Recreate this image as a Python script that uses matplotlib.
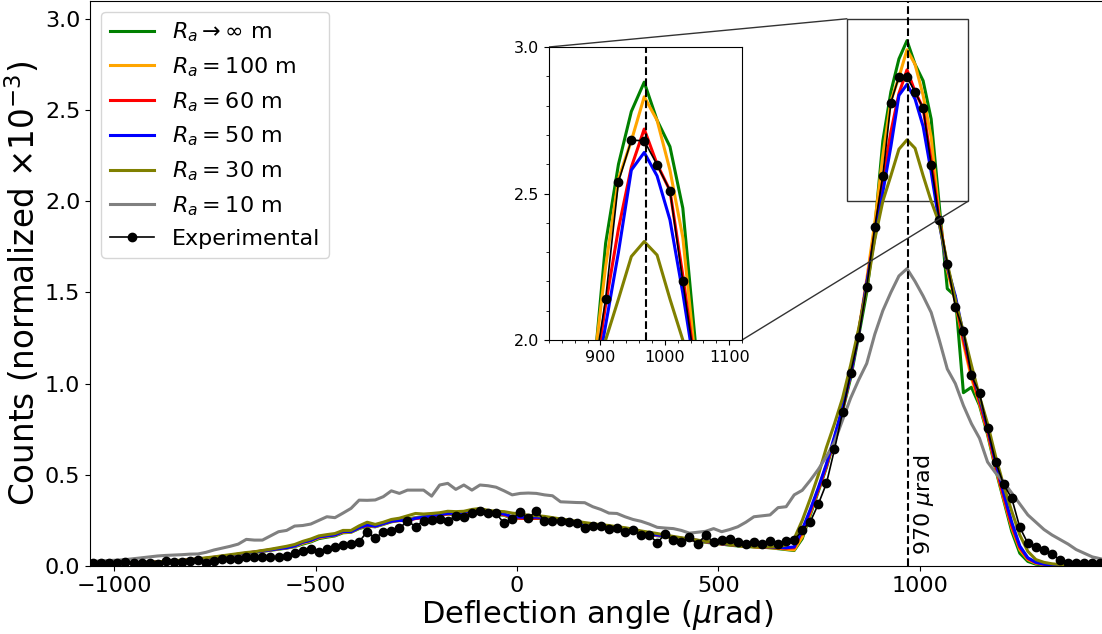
import numpy as np
import matplotlib
matplotlib.use("Agg")
import matplotlib.pyplot as plt
from mpl_toolkits.axes_grid1.inset_locator import mark_inset

# deflection angle grid (µrad), 20 µrad bins
angle = np.arange(-1052, 1449, 20)

exp_counts = [
    0.015, 0.018, 0.018, 0.018, 0.022, 0.015, 0.015, 0.015, 0.012, 0.029,
    0.022, 0.024, 0.029, 0.033, 0.018, 0.029, 0.036, 0.040, 0.040, 0.047,
    0.047, 0.047, 0.047, 0.051, 0.055, 0.073, 0.084, 0.091, 0.078, 0.091,
    0.106, 0.115, 0.120, 0.133, 0.188, 0.152, 0.188, 0.193, 0.206, 0.248,
    0.215, 0.248, 0.252, 0.256, 0.246, 0.276, 0.267, 0.288, 0.303, 0.292,
    0.288, 0.234, 0.256, 0.297, 0.261, 0.303, 0.248, 0.246, 0.248, 0.243,
    0.237, 0.206, 0.219, 0.219, 0.201, 0.206, 0.188, 0.197, 0.170, 0.170,
    0.128, 0.175, 0.142, 0.133, 0.157, 0.120, 0.170, 0.130, 0.142, 0.150,
    0.133, 0.120, 0.131, 0.120, 0.139, 0.120, 0.139, 0.142, 0.197, 0.243,
    0.340, 0.453, 0.639, 0.842, 1.059, 1.256, 1.530, 1.858, 2.140, 2.540,
    2.682, 2.680, 2.598, 2.510, 2.200, 1.899, 1.658, 1.420, 1.289, 1.046,
    0.946, 0.754, 0.571, 0.447, 0.371, 0.212, 0.124, 0.102, 0.088, 0.066,
    0.033, 0.018, 0.018, 0.018, 0.018, 0.018,
]

ra_inf = [
    0.010, 0.011, 0.012, 0.014, 0.015, 0.016, 0.017, 0.019, 0.021, 0.024,
    0.027, 0.029, 0.032, 0.036, 0.040, 0.045, 0.050, 0.056, 0.062, 0.068,
    0.074, 0.080, 0.086, 0.092, 0.098, 0.106, 0.120, 0.132, 0.150, 0.158,
    0.165, 0.182, 0.185, 0.205, 0.218, 0.215, 0.228, 0.242, 0.250, 0.258,
    0.265, 0.270, 0.272, 0.280, 0.285, 0.282, 0.290, 0.300, 0.298, 0.285,
    0.282, 0.278, 0.262, 0.262, 0.260, 0.262, 0.258, 0.252, 0.246, 0.240,
    0.235, 0.228, 0.220, 0.214, 0.206, 0.200, 0.194, 0.188, 0.180, 0.172,
    0.166, 0.160, 0.155, 0.148, 0.142, 0.136, 0.130, 0.125, 0.120, 0.114,
    0.110, 0.107, 0.105, 0.103, 0.100, 0.095, 0.090, 0.085, 0.150, 0.280,
    0.410, 0.540, 0.690, 0.850, 1.030, 1.260, 1.500, 1.850, 2.330, 2.600,
    2.780, 2.880, 2.750, 2.660, 2.450, 1.980, 1.520, 1.480, 0.950, 0.980,
    0.880, 0.720, 0.530, 0.360, 0.190, 0.070, 0.025, 0.010, 0.005, 0.003,
    0.002, 0.002, 0.002, 0.002, 0.002, 0.002,
]

ra_100 = [
    0.010, 0.012, 0.013, 0.013, 0.015, 0.016, 0.018, 0.019, 0.022, 0.025,
    0.027, 0.030, 0.033, 0.037, 0.041, 0.046, 0.051, 0.057, 0.063, 0.069,
    0.075, 0.081, 0.087, 0.094, 0.099, 0.108, 0.125, 0.136, 0.155, 0.162,
    0.168, 0.186, 0.186, 0.208, 0.222, 0.216, 0.230, 0.244, 0.248, 0.252,
    0.264, 0.266, 0.274, 0.280, 0.286, 0.288, 0.292, 0.302, 0.302, 0.290,
    0.286, 0.280, 0.266, 0.264, 0.262, 0.266, 0.262, 0.255, 0.248, 0.242,
    0.236, 0.228, 0.220, 0.214, 0.208, 0.202, 0.196, 0.188, 0.180, 0.174,
    0.168, 0.162, 0.156, 0.150, 0.144, 0.138, 0.132, 0.126, 0.120, 0.116,
    0.112, 0.108, 0.106, 0.104, 0.100, 0.098, 0.092, 0.088, 0.160, 0.290,
    0.420, 0.550, 0.700, 0.860, 1.050, 1.290, 1.570, 1.880, 2.250, 2.550,
    2.680, 2.830, 2.750, 2.580, 2.350, 1.920, 1.620, 1.450, 1.220, 1.030,
    0.890, 0.730, 0.540, 0.370, 0.210, 0.090, 0.035, 0.015, 0.008, 0.005,
    0.004, 0.003, 0.002, 0.002, 0.002, 0.002,
]

ra_60 = [
    0.010, 0.012, 0.013, 0.014, 0.016, 0.017, 0.018, 0.020, 0.023, 0.026,
    0.028, 0.031, 0.034, 0.038, 0.042, 0.048, 0.053, 0.058, 0.065, 0.071,
    0.077, 0.083, 0.089, 0.096, 0.102, 0.112, 0.130, 0.142, 0.158, 0.166,
    0.172, 0.188, 0.190, 0.212, 0.222, 0.220, 0.234, 0.246, 0.252, 0.250,
    0.260, 0.265, 0.272, 0.280, 0.286, 0.288, 0.292, 0.300, 0.300, 0.290,
    0.285, 0.282, 0.268, 0.262, 0.260, 0.262, 0.266, 0.258, 0.250, 0.245,
    0.238, 0.230, 0.222, 0.216, 0.210, 0.204, 0.198, 0.190, 0.182, 0.176,
    0.170, 0.164, 0.158, 0.152, 0.146, 0.140, 0.134, 0.128, 0.122, 0.118,
    0.113, 0.110, 0.106, 0.104, 0.102, 0.100, 0.098, 0.100, 0.190, 0.300,
    0.420, 0.550, 0.700, 0.860, 1.050, 1.280, 1.550, 1.820, 2.120, 2.380,
    2.590, 2.720, 2.600, 2.510, 2.220, 1.900, 1.640, 1.460, 1.240, 1.050,
    0.900, 0.740, 0.550, 0.380, 0.220, 0.100, 0.040, 0.018, 0.010, 0.005,
    0.004, 0.003, 0.003, 0.002, 0.002, 0.002,
]

ra_50 = [
    0.010, 0.012, 0.013, 0.014, 0.015, 0.016, 0.018, 0.020, 0.022, 0.025,
    0.028, 0.030, 0.033, 0.038, 0.042, 0.047, 0.052, 0.058, 0.064, 0.070,
    0.076, 0.082, 0.088, 0.095, 0.100, 0.110, 0.130, 0.140, 0.160, 0.165,
    0.170, 0.190, 0.188, 0.210, 0.225, 0.218, 0.232, 0.245, 0.250, 0.248,
    0.262, 0.268, 0.275, 0.282, 0.288, 0.290, 0.295, 0.305, 0.305, 0.295,
    0.290, 0.285, 0.270, 0.268, 0.266, 0.268, 0.265, 0.258, 0.250, 0.245,
    0.238, 0.230, 0.222, 0.216, 0.210, 0.205, 0.198, 0.190, 0.182, 0.176,
    0.170, 0.165, 0.158, 0.152, 0.146, 0.140, 0.134, 0.128, 0.122, 0.118,
    0.114, 0.110, 0.108, 0.106, 0.104, 0.102, 0.100, 0.105, 0.200, 0.310,
    0.430, 0.560, 0.710, 0.870, 1.050, 1.280, 1.550, 1.800, 2.050, 2.300,
    2.580, 2.640, 2.560, 2.410, 2.160, 1.880, 1.640, 1.480, 1.270, 1.080,
    0.920, 0.760, 0.570, 0.400, 0.240, 0.110, 0.045, 0.020, 0.010, 0.006,
    0.005, 0.004, 0.003, 0.003, 0.002, 0.002,
]

ra_30 = [
    0.010, 0.012, 0.013, 0.014, 0.016, 0.017, 0.019, 0.021, 0.023, 0.026,
    0.029, 0.032, 0.035, 0.040, 0.045, 0.050, 0.056, 0.062, 0.068, 0.074,
    0.078, 0.085, 0.092, 0.100, 0.108, 0.118, 0.135, 0.148, 0.165, 0.172,
    0.178, 0.195, 0.195, 0.220, 0.240, 0.228, 0.240, 0.255, 0.262, 0.275,
    0.288, 0.285, 0.288, 0.292, 0.300, 0.298, 0.300, 0.310, 0.315, 0.305,
    0.300, 0.298, 0.290, 0.285, 0.278, 0.276, 0.272, 0.265, 0.258, 0.252,
    0.245, 0.238, 0.232, 0.226, 0.222, 0.215, 0.210, 0.202, 0.192, 0.185,
    0.178, 0.170, 0.162, 0.155, 0.148, 0.142, 0.135, 0.130, 0.124, 0.118,
    0.112, 0.108, 0.105, 0.104, 0.104, 0.106, 0.115, 0.150, 0.250, 0.370,
    0.500, 0.650, 0.780, 0.920, 1.100, 1.300, 1.520, 1.790, 2.000, 2.140,
    2.285, 2.336, 2.290, 2.140, 2.000, 1.880, 1.660, 1.460, 1.280, 1.100,
    0.930, 0.780, 0.600, 0.440, 0.300, 0.170, 0.080, 0.035, 0.020, 0.012,
    0.008, 0.006, 0.004, 0.003, 0.003, 0.002,
]

ra_10 = [
    0.025, 0.028, 0.030, 0.032, 0.035, 0.040, 0.045, 0.050, 0.055, 0.058,
    0.060, 0.062, 0.065, 0.066, 0.075, 0.088, 0.098, 0.108, 0.120, 0.146,
    0.142, 0.142, 0.165, 0.188, 0.195, 0.219, 0.222, 0.230, 0.250, 0.270,
    0.265, 0.290, 0.316, 0.361, 0.360, 0.362, 0.380, 0.412, 0.398, 0.416,
    0.416, 0.416, 0.383, 0.444, 0.453, 0.420, 0.444, 0.416, 0.444, 0.440,
    0.432, 0.412, 0.390, 0.398, 0.400, 0.398, 0.390, 0.385, 0.352, 0.350,
    0.348, 0.347, 0.325, 0.310, 0.290, 0.288, 0.270, 0.255, 0.245, 0.230,
    0.212, 0.208, 0.205, 0.195, 0.180, 0.185, 0.190, 0.205, 0.188, 0.200,
    0.215, 0.240, 0.270, 0.275, 0.280, 0.320, 0.325, 0.390, 0.415, 0.470,
    0.530, 0.600, 0.680, 0.800, 0.920, 1.020, 1.110, 1.270, 1.400, 1.500,
    1.590, 1.630, 1.560, 1.480, 1.390, 1.240, 1.080, 1.000, 0.880, 0.780,
    0.700, 0.570, 0.510, 0.460, 0.400, 0.340, 0.280, 0.240, 0.200, 0.170,
    0.145, 0.120, 0.090, 0.070, 0.050, 0.040,
]

series = [
    (ra_inf, 'green', r'$R_a \rightarrow \infty$ m'),
    (ra_100, 'orange', r'$R_a = 100$ m'),
    (ra_60, 'red', r'$R_a = 60$ m'),
    (ra_50, 'blue', r'$R_a = 50$ m'),
    (ra_30, 'olive', r'$R_a = 30$ m'),
    (ra_10, 'gray', r'$R_a = 10$ m'),
]

fig = plt.figure(figsize=(11.02, 6.34), dpi=100)
ax = fig.add_axes([90 / 1102, 68 / 634, 1014 / 1102, 565.5 / 634])
axins = fig.add_axes([549 / 1102, 294 / 634, 193 / 1102, 293 / 634])

for a in (ax, axins):
    for vals, col, lab in series:
        a.plot(angle, vals, color=col, lw=2.2, label=lab)
    a.plot(angle, exp_counts, color='black', lw=1.2, marker='o', ms=6,
           label='Experimental')
    a.axvline(970, color='black', ls='--', lw=1.5)

ax.set_xlim(-1060, 1457)
ax.set_ylim(0, 3.1)
ax.set_xticks([-1000, -500, 0, 500, 1000])
ax.set_yticks([0.0, 0.5, 1.0, 1.5, 2.0, 2.5, 3.0])
ax.tick_params(labelsize=16)
ax.set_xlabel(r'Deflection angle ($\mu$rad)', fontsize=22, labelpad=2)
ax.set_ylabel(r'Counts (normalized ×10$^{-3}$)', fontsize=23.5, labelpad=2)
ax.text(980, 0.06, r'970 $\mu$rad', rotation=90, fontsize=16,
        ha='left', va='bottom')
ax.legend(loc='upper left', fontsize=16)

axins.set_xlim(820, 1120)
axins.set_ylim(2.0, 3.0)
axins.set_xticks([900, 1000, 1100])
axins.set_yticks([2.0, 2.5, 3.0])
axins.minorticks_on()
axins.tick_params(labelsize=11.5)
mark_inset(ax, axins, loc1=2, loc2=4, fc='none', ec='0.2', lw=1)

fig.savefig('out.png', dpi=100)
